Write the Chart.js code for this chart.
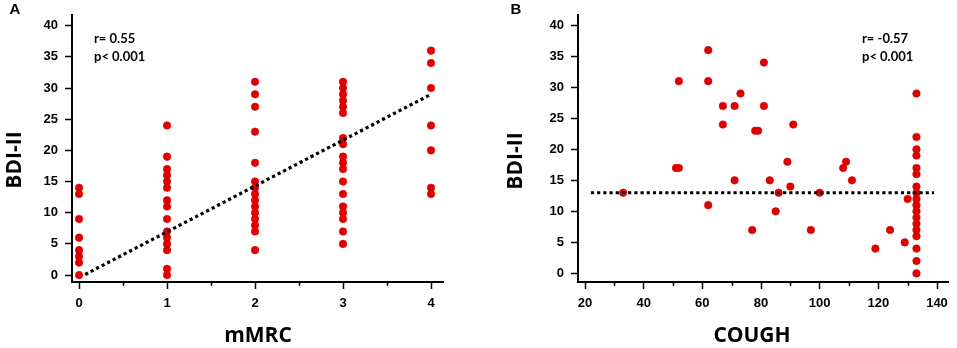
<!DOCTYPE html>
<html>
<head>
<meta charset="utf-8">
<script src="https://cdn.jsdelivr.net/npm/chart.js@4/dist/chart.umd.min.js"></script>
<style>
  html, body { margin: 0; padding: 0; background: #ffffff; }
  #wrap { position: relative; width: 957px; height: 348px; background: #ffffff; }
  #cA { position: absolute; left: 0; top: 0; }
  #cB { position: absolute; left: 480px; top: 0; }
</style>
</head>
<body>
<div id="wrap">
  <canvas id="cA" width="480" height="348"></canvas>
  <canvas id="cB" width="477" height="348"></canvas>
</div>
<script>
// ---------- DATA ----------
// Panel A: BDI-II by mMRC grade
const mmrcCategories = [0, 1, 2, 3, 4];
const bdiMmrc0 = [14, 13, 9, 6, 4, 3, 2, 0];
const bdiMmrc1 = [24, 19, 17, 16, 15, 14, 12, 11, 9, 7, 6, 5, 4, 1, 0];
const bdiMmrc2 = [31, 29, 27, 23, 18, 15, 14, 13, 12, 11, 10, 9, 8, 7, 4];
const bdiMmrc3 = [31, 30, 29, 28, 27, 26, 22, 21, 19, 18, 17, 15, 13, 11, 10, 9, 7, 5];
const bdiMmrc4 = [36, 34, 30, 24, 20, 14, 13];
const trendA_x = [0.07, 4];
const trendA_y = [0.1, 29];

// Panel B: BDI-II vs COUGH score
const coughScores = [33, 51, 52, 52, 62, 62, 62, 67, 67, 71, 71, 73, 77, 78, 79, 81, 81, 83, 85, 86,
                     89, 90, 91, 97, 100, 108, 109, 111, 119, 124, 129, 130,
                     133, 133, 133, 133, 133, 133, 133, 133, 133, 133, 133, 133, 133, 133, 133, 133, 133, 133];
const bdiCough   = [13, 17, 17, 31, 36, 31, 11, 27, 24, 27, 15, 29, 7, 23, 23, 34, 27, 15, 10, 13,
                     18, 14, 24, 7, 13, 17, 18, 15, 4, 7, 5, 12,
                     29, 22, 20, 19, 17, 16, 14, 13, 12, 11, 10, 9, 8, 7, 6, 4, 2, 0];
const trendB_x = [22, 139];
const trendB_y = [13, 13];

// Tick labels
const yTicks = [0, 5, 10, 15, 20, 25, 30, 35, 40];
const xTicksA = [0, 1, 2, 3, 4];
const xMinorA = [0.5, 1.5, 2.5, 3.5];
const xTicksB = [20, 40, 60, 80, 100, 120, 140];
const xMinorB = [30, 50, 70, 90, 110, 130];

// ---------- BUILD ----------
const bdiByMmrc = [bdiMmrc0, bdiMmrc1, bdiMmrc2, bdiMmrc3, bdiMmrc4];
const pointsA = [];
mmrcCategories.forEach((c, i) => bdiByMmrc[i].forEach(v => pointsA.push({ x: c, y: v })));
const pointsB = coughScores.map((c, i) => ({ x: c, y: bdiCough[i] }));
const lineA = trendA_x.map((x, i) => ({ x: x, y: trendA_y[i] }));
const lineB = trendB_x.map((x, i) => ({ x: x, y: trendB_y[i] }));

const overlay = {
  id: 'overlay',
  afterDraw(chart, args, opts) {
    const ctx = chart.ctx;
    ctx.save();
    const xs = chart.scales.x;
    const yb = chart.chartArea.bottom;
    ctx.strokeStyle = '#000';
    ctx.lineWidth = 1.5;
    (opts.minor || []).forEach(v => {
      const px = Math.round(xs.getPixelForValue(v)) + 0.5;
      ctx.beginPath();
      ctx.moveTo(px, yb);
      ctx.lineTo(px, yb + 4);
      ctx.stroke();
    });
    (opts.texts || []).forEach(t => {
      ctx.save();
      ctx.font = t.font;
      ctx.fillStyle = '#000';
      ctx.textAlign = t.align || 'center';
      ctx.textBaseline = 'middle';
      ctx.translate(t.x, t.y);
      if (t.rot) ctx.rotate(t.rot);
      ctx.fillText(t.text, 0, 0);
      ctx.restore();
    });
    ctx.restore();
  }
};

const tickFont = { family: "'Liberation Sans', Arial, sans-serif", weight: 'bold', size: 13 };
const titleFont = "bold 21px 'Open Sans', sans-serif";
const noteFont = "bold 13px Lato, sans-serif";
const letterFont = "bold 15px 'Liberation Sans', Arial, sans-serif";

function makeChart(canvasId, cfg) {
  return new Chart(document.getElementById(canvasId), {
    type: 'scatter',
    data: {
      datasets: [
        {
          type: 'line',
          data: cfg.line,
          borderColor: '#000',
          borderWidth: 3.2,
          borderDash: [3.2, 3],
          borderCapStyle: 'butt',
          pointRadius: 0,
          fill: false,
          order: 0
        },
        {
          data: cfg.points,
          backgroundColor: '#e10000',
          borderColor: '#c80000',
          borderWidth: 0.5,
          pointRadius: 3.8,
          pointHoverRadius: 3.8,
          order: 1
        }
      ]
    },
    options: {
      responsive: false,
      animation: false,
      devicePixelRatio: 1,
      layout: { padding: { top: 12, right: cfg.padRight, left: 0, bottom: 0 } },
      plugins: {
        legend: { display: false },
        tooltip: { enabled: false },
        overlay: { minor: cfg.minor, texts: cfg.texts }
      },
      scales: {
        x: {
          type: 'linear',
          min: cfg.xMin,
          max: cfg.xMax,
          afterBuildTicks: s => { s.ticks = cfg.xTicks.map(v => ({ value: v })); },
          afterFit: s => { s.height = 66; },
          grid: { drawOnChartArea: false, drawTicks: true, tickLength: 7, color: '#000', tickWidth: 1.5 },
          border: { display: true, color: '#000', width: 2 },
          ticks: { color: '#000', font: tickFont, padding: 7, maxRotation: 0, autoSkip: false }
        },
        y: {
          type: 'linear',
          min: cfg.yMin,
          max: cfg.yMax,
          afterBuildTicks: s => { s.ticks = yTicks.map(v => ({ value: v })); },
          afterFit: s => { s.width = cfg.yWidth; },
          grid: { drawOnChartArea: false, drawTicks: true, tickLength: 7, color: '#000', tickWidth: 1.5 },
          border: { display: true, color: '#000', width: 2 },
          ticks: { color: '#000', font: tickFont, padding: 7, autoSkip: false }
        }
      }
    },
    plugins: [overlay]
  });
}

makeChart('cA', {
  points: pointsA, line: lineA,
  xMin: -0.08, xMax: 4.136, yMin: -1.11, yMax: 41.75,
  xTicks: xTicksA, minor: xMinorA, yWidth: 72, padRight: 37,
  texts: [
    { text: 'A', x: 15, y: 10, font: letterFont },
    { text: 'BDI-II', x: 15, y: 160, font: titleFont, rot: -Math.PI / 2 },
    { text: 'mMRC', x: 258, y: 336, font: titleFont },
    { text: 'r= 0.55', x: 94, y: 39, font: noteFont, align: 'left' },
    { text: 'p< 0.001', x: 94, y: 57, font: noteFont, align: 'left' }
  ]
});

makeChart('cB', {
  points: pointsB, line: lineB,
  xMin: 17.61, xMax: 143.75, yMin: -1.39, yMax: 41.7,
  xTicks: xTicksB, minor: xMinorB, yWidth: 98, padRight: 9,
  texts: [
    { text: 'B', x: 36, y: 10, font: letterFont },
    { text: 'BDI-II', x: 36, y: 161, font: titleFont, rot: -Math.PI / 2 },
    { text: 'COUGH', x: 272, y: 336, font: titleFont },
    { text: 'r= -0.57', x: 382, y: 39, font: noteFont, align: 'left' },
    { text: 'p< 0.001', x: 382, y: 57, font: noteFont, align: 'left' }
  ]
});
</script>
</body>
</html>
